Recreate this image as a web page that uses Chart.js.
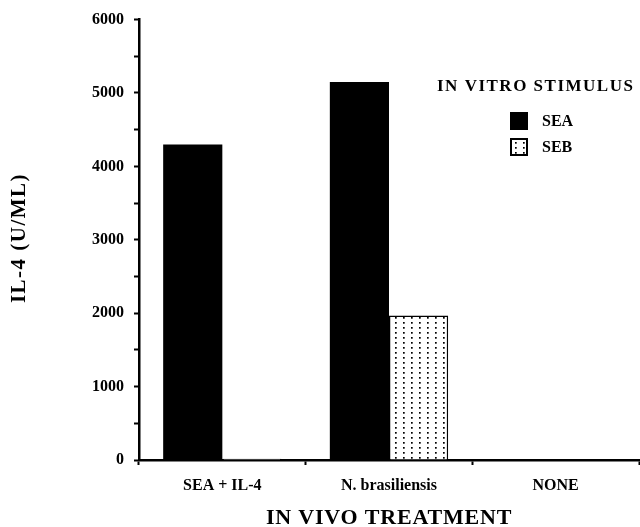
<!DOCTYPE html>
<html>
<head>
<meta charset="utf-8">
<script src="https://cdn.jsdelivr.net/npm/chart.js@4"></script>
<style>
  body { margin: 0; background: #fff; }
  #wrap { width: 640px; height: 527px; }
</style>
</head>
<body>
<div id="wrap"><canvas id="il4Chart" width="640" height="527"></canvas></div>
<script>
const categories = ["SEA + IL-4", "N. brasiliensis", "NONE"];
const seaValues = [4300, 5150, 0];
const sebValues = [18, 1970, 0];
const seriesNames = ["SEA", "SEB"];
const yTicks = [0, 1000, 2000, 3000, 4000, 5000, 6000];
const legendTitle = "IN VITRO STIMULUS";
const xTitle = "IN VIVO TREATMENT";
const yTitle = "IL-4 (U/ML)";

const FONT = "'Liberation Serif', 'DejaVu Serif', serif";

// dotted fill for the SEB bars
function dotPattern() {
  const c = document.createElement("canvas");
  c.width = 8;
  c.height = 5;
  const g = c.getContext("2d");
  g.fillStyle = "#fff";
  g.fillRect(0, 0, 8, 5);
  g.fillStyle = "#000";
  g.fillRect(3, 2, 1.7, 1.7);
  return g.createPattern(c, "repeat");
}

// axis titles and the legend box inside the plot
const annotations = {
  id: "annotations",
  afterDraw(chart) {
    const g = chart.ctx;
    const area = chart.chartArea;
    g.save();
    g.fillStyle = "#000";
    g.textBaseline = "middle";

    // x title
    g.font = "bold 22px " + FONT;
    g.textAlign = "center";
    g.letterSpacing = "0.8px";
    g.fillText(xTitle, (area.left + area.right) / 2, 518);

    // y title, rotated
    g.save();
    g.translate(20, 238);
    g.rotate(-Math.PI / 2);
    g.font = "bold 21px " + FONT;
    g.letterSpacing = "1.5px";
    g.fillText(yTitle, 0, 0);
    g.restore();

    // legend
    g.textAlign = "left";
    g.font = "bold 17px " + FONT;
    g.letterSpacing = "1.5px";
    g.fillText(legendTitle, 437, 87);
    g.letterSpacing = "0px";
    chart.data.datasets.forEach((ds, i) => {
      const y = 121 + i * 26;
      g.fillStyle = ds.backgroundColor;
      g.fillRect(511, y - 8, 16, 16);
      g.strokeStyle = "#000";
      g.lineWidth = 2;
      g.strokeRect(511, y - 8, 16, 16);
      g.fillStyle = "#000";
      g.font = "bold 16px " + FONT;
      g.fillText(ds.label, 542, y + 1);
    });
    g.restore();
  }
};

const ctx = document.getElementById("il4Chart").getContext("2d");
const pattern = dotPattern();

new Chart(ctx, {
  type: "bar",
  data: {
    labels: categories,
    datasets: [
      {
        label: seriesNames[0],
        data: seaValues,
        backgroundColor: "#000",
        borderWidth: 0,
        barPercentage: 1.0,
        categoryPercentage: 0.71
      },
      {
        label: seriesNames[1],
        data: sebValues,
        backgroundColor: pattern,
        borderColor: "#000",
        borderWidth: 1.5,
        barPercentage: 1.0,
        categoryPercentage: 0.71
      }
    ]
  },
  options: {
    responsive: false,
    animation: false,
    layout: { padding: { top: 19, right: 1, left: 0, bottom: 0 } },
    plugins: {
      legend: { display: false },
      tooltip: { enabled: false }
    },
    scales: {
      x: {
        grid: {
          offset: true,
          drawOnChartArea: false,
          tickLength: 5,
          tickWidth: 2,
          color: "#000"
        },
        border: { color: "#000", width: 2.5 },
        ticks: {
          color: "#000",
          padding: 11,
          font: { family: FONT, size: 16, weight: "bold" }
        },
        afterFit: s => { s.height = 67; }
      },
      y: {
        min: 0,
        max: 6000,
        ticks: {
          stepSize: 500,
          color: "#000",
          padding: 10,
          font: { family: FONT, size: 16, weight: "bold" },
          callback: v => (yTicks.includes(v) ? String(v) : "")
        },
        grid: {
          drawOnChartArea: false,
          tickLength: 5,
          tickWidth: 2,
          color: "#000"
        },
        border: { color: "#000", width: 2.5 },
        afterFit: s => { s.width = 139; }
      }
    }
  },
  plugins: [annotations]
});
</script>
</body>
</html>
